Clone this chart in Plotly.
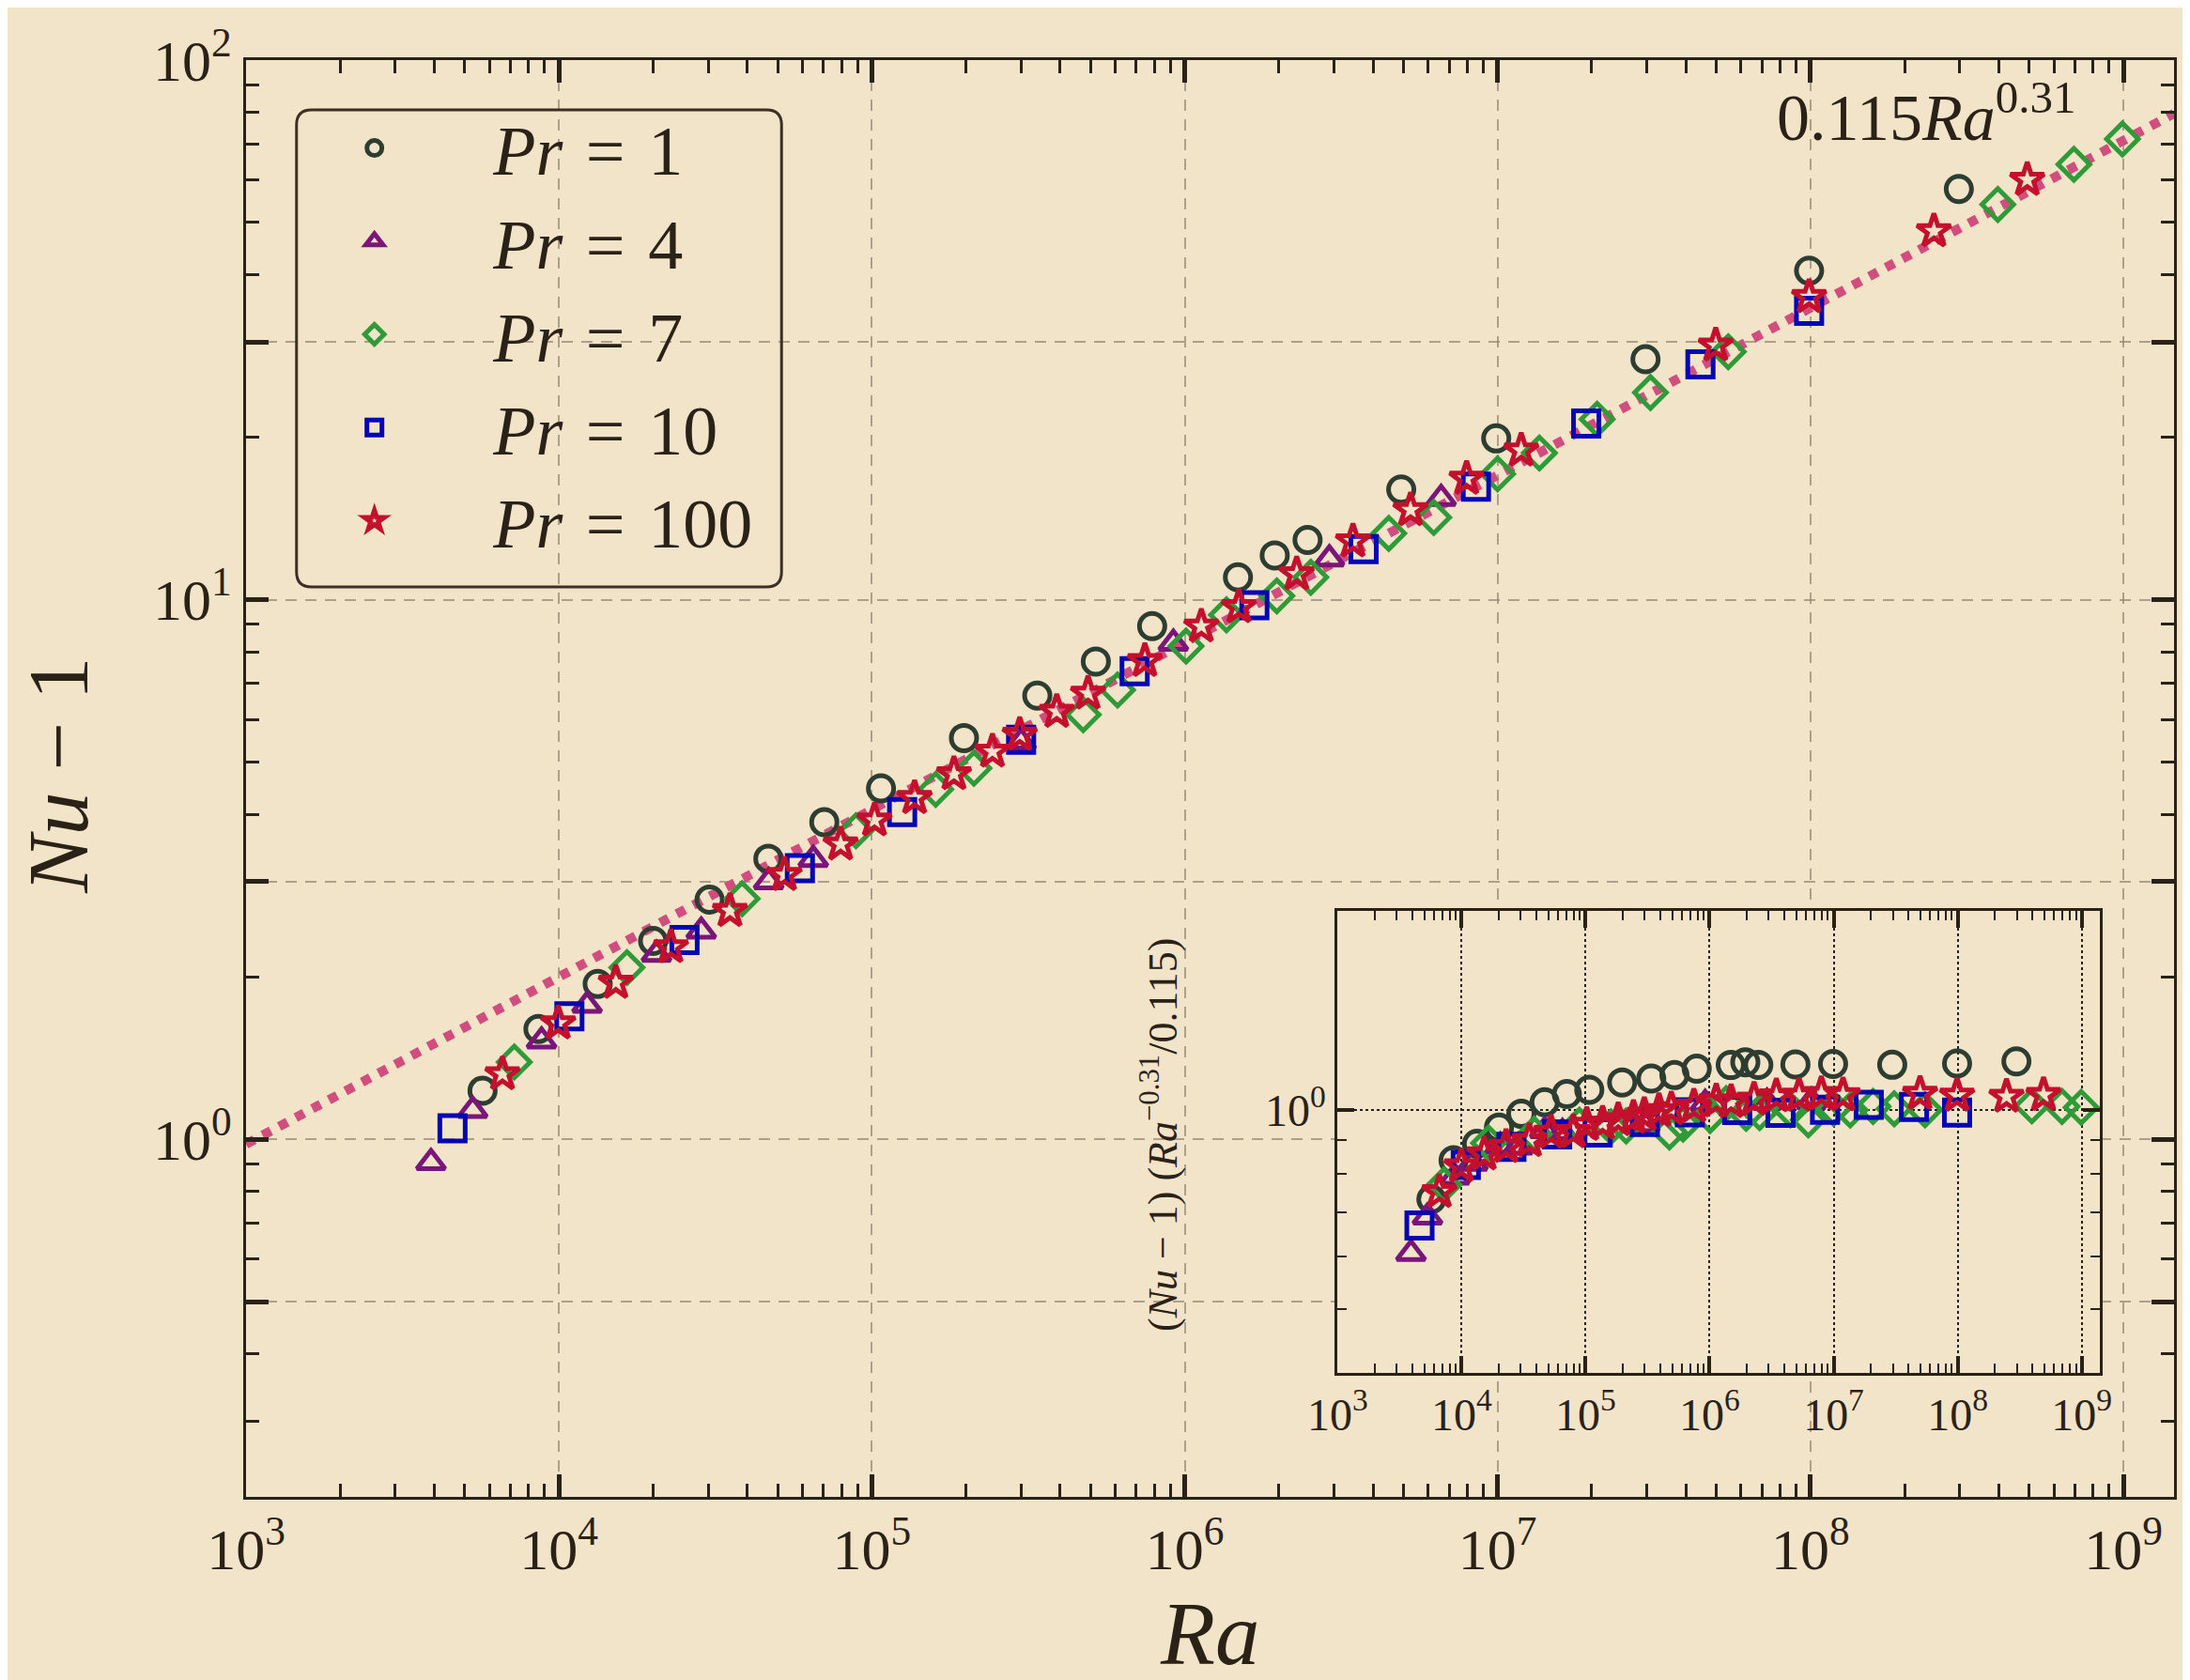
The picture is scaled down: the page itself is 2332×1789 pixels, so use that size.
import numpy as np
import plotly.graph_objects as go

# ---------------- data ----------------
Ra_pr1 = [5.7e3, 8.6e3, 1.33e4, 2.0e4, 3.03e4, 4.67e4, 7.05e4, 1.07e5, 1.97e5, 3.38e5,
          5.2e5, 7.87e5, 1.48e6, 1.94e6, 2.47e6, 4.92e6, 9.9e6, 2.97e7, 9.9e7, 2.98e8]
Nu_pr1 = [1.23, 1.60, 1.94, 2.33, 2.78, 3.31, 3.87, 4.47, 5.54, 6.64,
          7.68, 8.93, 11.0, 12.08, 12.9, 16.0, 19.9, 27.9, 40.7, 57.7]

Ra_pr4 = [3.9e3, 5.3e3, 8.8e3, 1.23e4, 2.05e4, 2.85e4, 4.68e4, 6.5e4, 3.0e5, 9.2e5, 2.9e6, 6.6e6]
Nu_pr4 = [0.905, 1.13, 1.52, 1.77, 2.20, 2.43, 3.00, 3.30, 5.45, 8.30, 11.9, 15.4]

Ra_pr7 = [7.2e3, 1.65e4, 3.85e4, 8.9e4, 1.6e5, 2.12e5, 4.74e5, 6.1e5, 1.01e6, 1.36e6, 1.97e6,
          2.53e6, 4.49e6, 6.25e6, 1.0e7, 1.36e7, 2.08e7, 3.08e7, 5.46e7, 3.97e8, 6.95e8, 9.93e8]
Nu_pr7 = [1.39, 2.08, 2.79, 3.73, 4.45, 4.87, 6.12, 6.80, 8.20, 9.37, 10.16,
          11.0, 13.27, 14.2, 17.1, 18.7, 21.6, 24.2, 28.8, 54.0, 64.1, 71.4]

Ra_pr10 = [4.57e3, 1.08e4, 2.52e4, 5.89e4, 1.25e5, 3.0e5, 6.92e5, 1.67e6, 3.73e6, 8.53e6,
           1.92e7, 4.45e7, 9.9e7]
Nu_pr10 = [1.048, 1.69, 2.34, 3.18, 4.04, 5.50, 7.37, 9.76, 12.4, 16.2, 21.2, 27.3, 34.3]

Ra_pr100 = [6.6e3, 9.95e3, 1.52e4, 2.28e4, 3.52e4, 5.26e4, 7.95e4, 1.02e5, 1.37e5, 1.83e5,
            2.43e5, 2.97e5, 3.9e5, 4.91e5, 7.46e5, 1.13e6, 1.49e6, 2.28e6, 3.45e6, 5.27e6,
            7.96e6, 1.19e7, 4.98e7, 9.9e7, 2.48e8, 4.93e8]
Nu_pr100 = [1.32, 1.64, 1.95, 2.27, 2.65, 3.09, 3.52, 3.90, 4.29, 4.75,
            5.23, 5.62, 6.20, 6.70, 7.70, 8.92, 9.69, 11.15, 12.83, 14.66,
            16.76, 18.9, 29.6, 36.4, 48.2, 60.0]

Pr_values = ["1", "4", "7", "10", "100"]

# fit Nu-1 = C Ra^b
fit_C = 0.115
fit_b = 0.31
fit_label = "0.115<i>Ra</i><sup>0.31</sup>"

x_tick_vals = [1e3, 1e4, 1e5, 1e6, 1e7, 1e8, 1e9]
x_tick_text = ["10<sup>3</sup>", "10<sup>4</sup>", "10<sup>5</sup>", "10<sup>6</sup>",
               "10<sup>7</sup>", "10<sup>8</sup>", "10<sup>9</sup>"]
y_tick_vals = [0.5, 1, 3, 10, 30, 100]
y_tick_text = ["", "10<sup>0</sup>", "", "10<sup>1</sup>", "", "10<sup>2</sup>"]
inset_y_tick_vals = [1]
inset_y_tick_text = ["10<sup>0</sup>"]

# ---------------- style ----------------
BG = "#f2e4c9"
INK = "#2a2117"
FONT = "Liberation Serif"
colors = ["#2e3d31", "#7a1579", "#2f9a38", "#0505b4", "#c4102c"]
symbols = ["circle-open", "triangle-up-open", "diamond-open", "square-open", "star-open"]
sizes = [27, 26, 26, 27, 27]
MLW = 5

X_RANGE = [3, 9.162]
Y_RANGE = [-0.663, 2.0]
IX_RANGE = [3, 9.15]
IY_RANGE = [np.log10(0.4), np.log10(2.0)]

minor_x = [m * 10 ** e for e in range(3, 10) for m in range(2, 10)]
minor_y = [m * 10.0 ** e for e in range(-1, 2) for m in (2, 3, 4, 5, 6, 7, 8, 9)
           if m * 10.0 ** e not in (0.5, 3, 30)]
inset_minor_y = [0.5, 0.6, 0.7, 0.8, 0.9]

all_ra = [Ra_pr1, Ra_pr4, Ra_pr7, Ra_pr10, Ra_pr100]
all_nu = [Nu_pr1, Nu_pr4, Nu_pr7, Nu_pr10, Nu_pr100]

NB = "\u00a0"
SP = "\u2004"
series_names = [NB * 3 + "<i>Pr</i>" + SP + "=" + SP + p for p in Pr_values]

fig = go.Figure()

# fit line (dotted), spanning the x-axis range
fit_x = np.array([10 ** X_RANGE[0], 10 ** X_RANGE[1]])
fig.add_trace(go.Scatter(x=fit_x, y=fit_C * fit_x ** fit_b, mode="lines",
                         line=dict(color="#d14d7d", width=10, dash="dot"),
                         showlegend=False, hoverinfo="skip"))

for ra, nu, name, c, s, sz in zip(all_ra, all_nu, series_names, colors, symbols, sizes):
    fig.add_trace(go.Scatter(x=ra, y=nu, mode="markers", name=name,
                             marker=dict(symbol=s, size=sz, color=c, line=dict(width=MLW, color=c))))

# inset: compensated Nusselt number
for ra, nu, c, s, sz in zip(all_ra, all_nu, colors, symbols, sizes):
    ra_a = np.array(ra)
    comp = np.array(nu) / (fit_C * ra_a ** fit_b)
    fig.add_trace(go.Scatter(x=ra_a, y=comp, mode="markers", xaxis="x2", yaxis="y2",
                             showlegend=False,
                             marker=dict(symbol=s, size=sz, color=c, line=dict(width=MLW, color=c))))

grid_main = dict(showgrid=True, gridcolor="rgba(150,138,118,0.75)", gridwidth=2, griddash="12px,9px")

fig.update_layout(
    width=2332, height=1789,
    margin=dict(l=254, r=15, t=56, b=203),
    paper_bgcolor=BG, plot_bgcolor=BG,
    font=dict(family=FONT, color=INK),
    xaxis=dict(type="log", range=X_RANGE, domain=[0, 1],
               tickvals=x_tick_vals, ticktext=x_tick_text,
               tickfont=dict(size=62, family=FONT, color=INK),
               ticks="inside", ticklen=24, tickwidth=5, tickcolor=INK,
               showline=True, linecolor=INK, linewidth=3, mirror="allticks",
               minor=dict(tickvals=minor_x, ticks="inside", ticklen=14, tickwidth=2.5,
                          tickcolor=INK, showgrid=False),
               zeroline=False, **grid_main),
    yaxis=dict(type="log", range=Y_RANGE, domain=[0, 1],
               tickvals=y_tick_vals, ticktext=y_tick_text,
               tickfont=dict(size=62, family=FONT, color=INK),
               ticks="inside", ticklen=24, tickwidth=5, tickcolor=INK,
               showline=True, linecolor=INK, linewidth=3, mirror="allticks",
               minor=dict(tickvals=minor_y, ticks="inside", ticklen=14, tickwidth=2.5,
                          tickcolor=INK, showgrid=False),
               zeroline=False, **grid_main),
    xaxis2=dict(type="log", range=IX_RANGE, domain=[0.5662, 0.9617], anchor="y2",
                tickvals=x_tick_vals, ticktext=x_tick_text,
                tickfont=dict(size=48, family=FONT, color=INK),
                ticks="inside", ticklen=18, tickwidth=4, tickcolor=INK,
                showline=True, linecolor=INK, linewidth=3, mirror="allticks",
                minor=dict(tickvals=minor_x, ticks="inside", ticklen=10, tickwidth=2,
                           tickcolor=INK, showgrid=False),
                showgrid=True, gridcolor="#222", gridwidth=1.5, griddash="dot", zeroline=False),
    yaxis2=dict(type="log", range=IY_RANGE, domain=[0.0863, 0.4078], anchor="x2",
                tickvals=inset_y_tick_vals, ticktext=inset_y_tick_text,
                tickfont=dict(size=48, family=FONT, color=INK),
                ticks="inside", ticklen=18, tickwidth=4, tickcolor=INK,
                showline=True, linecolor=INK, linewidth=3, mirror="allticks",
                minor=dict(tickvals=inset_minor_y, ticks="inside", ticklen=10, tickwidth=2,
                           tickcolor=INK, showgrid=False),
                showgrid=True, gridcolor="#222", gridwidth=1.5, griddash="dot", zeroline=False),
    legend=dict(x=0.032, y=0.9745, xanchor="left", yanchor="top",
                bgcolor="rgba(0,0,0,0)", borderwidth=0,
                font=dict(size=74, family=FONT, color=INK),
                itemwidth=132, itemsizing="trace"),
    showlegend=True,
)

# rounded legend frame
x0, x1 = 0.02618, 0.27775
y0, y1 = 0.63333, 0.96536
rx, ry = 16 / 2063, 16 / 1530
path = (f"M{x0+rx},{y1} L{x1-rx},{y1} Q{x1},{y1} {x1},{y1-ry} L{x1},{y0+ry} "
        f"Q{x1},{y0} {x1-rx},{y0} L{x0+rx},{y0} Q{x0},{y0} {x0},{y0+ry} "
        f"L{x0},{y1-ry} Q{x0},{y1} {x0+rx},{y1} Z")
fig.add_shape(type="path", path=path, xref="paper", yref="paper",
              line=dict(color="#3b3024", width=3), fillcolor="rgba(0,0,0,0)", layer="above")

# axis titles and annotation
fig.add_annotation(text="<i>Ra</i>", xref="paper", yref="paper", x=0.5, y=-0.0954,
                   showarrow=False, font=dict(size=95, family=FONT, color=INK),
                   xanchor="center", yanchor="middle")
fig.add_annotation(text="<i>Nu</i> − 1", xref="paper", yref="paper", x=-0.0975, y=0.502,
                   showarrow=False, textangle=-90, font=dict(size=92, family=FONT, color=INK),
                   xanchor="center", yanchor="middle")
fig.add_annotation(text=fit_label, xref="paper", yref="paper", x=0.9496, y=0.9634,
                   showarrow=False, font=dict(size=70, family=FONT, color=INK),
                   xanchor="right", yanchor="middle")
fig.add_annotation(text="(<i>Nu</i> − 1) (<i>Ra</i><sup>−0.31</sup>/0.115)",
                   xref="paper", yref="paper", x=0.474, y=0.2523,
                   showarrow=False, textangle=-90, font=dict(size=44, family=FONT, color=INK),
                   xanchor="center", yanchor="middle")

fig.write_html("out.html")
